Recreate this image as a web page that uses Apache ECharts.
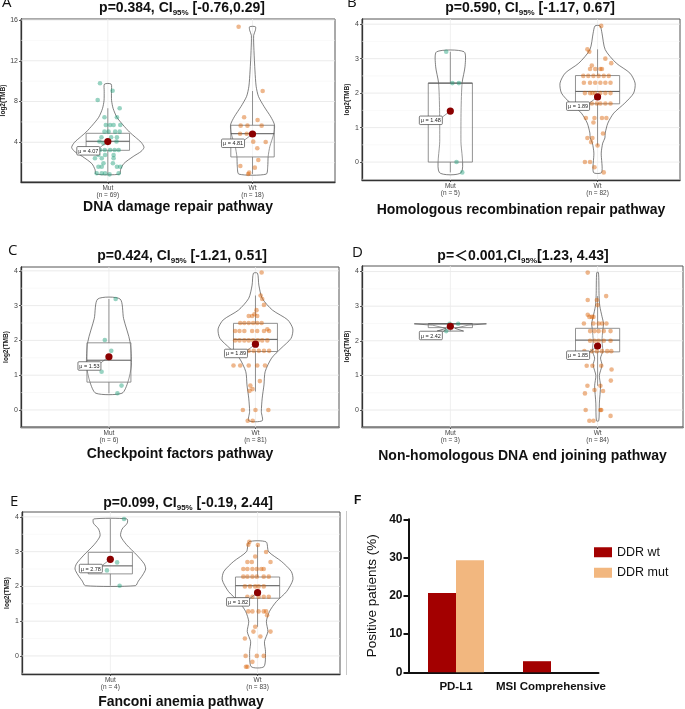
<!DOCTYPE html>
<html>
<head>
<meta charset="utf-8">
<script src="https://cdn.jsdelivr.net/npm/echarts@6/dist/echarts.min.js"></script>
<style>
html, body { margin: 0; padding: 0; background: #fff; }
#chart { width: 685px; height: 709px; }
</style>
</head>
<body>
<div id="chart"></div>
<script>
// ---------- data (offset from group centre, log2 TMB) ----------
// A: DNA damage repair
const aCats = ['Mut\n(n = 69)', 'Wt\n(n = 18)']
const aTicks = [4, 8, 12, 16]
const aMinor = [2, 6, 10, 14]
const aMutPts = [
  [-0.054, 9.79], [0.033, 9.06], [-0.07, 8.15], [0.082, 7.34], [-0.023, 6.45], [0.063, 6.45],
  [-0.014, 5.7], [0.016, 5.7], [0.04, 5.7], [0.086, 5.7], [-0.023, 5.04], [0.005, 5.04], [0.051, 5.04], [0.082, 5.04],
  [-0.044, 4.49], [0.023, 4.49], [0.063, 4.49], [-0.058, 4.07], [0.06, 4.07], [-0.03, 3.9],
  [-0.082, 3.24], [-0.054, 3.24], [-0.021, 3.24], [0.016, 3.24], [0.047, 3.24], [0.075, 3.24],
  [-0.065, 2.75], [-0.019, 2.75], [0.04, 2.75], [-0.089, 2.43], [-0.042, 2.43], [0.04, 2.43],
  [-0.03, 1.94], [0.035, 1.94], [-0.065, 1.6], [-0.042, 1.6], [0.063, 1.6], [0.086, 1.6],
  [-0.077, 0.96], [-0.042, 0.96], [-0.019, 0.96], [0.012, 0.85], [0.075, 0.96]
]
const aWtPts = [
  [-0.096, 15.34], [0.07, 9.03], [-0.058, 6.45], [0.035, 6.19], [-0.082, 5.63], [-0.035, 5.63], [0.063, 5.63],
  [-0.086, 4.84], [-0.04, 4.84], [0.005, 4.06], [0.091, 4.03], [0.033, 3.41], [0.04, 2.26], [-0.084, 1.67],
  [0.016, 1.51], [-0.023, 1.02], [-0.03, 0.89]
]
const aMutViolin = [[0.87, 0.082], [1.3, 0.088], [1.9, 0.11], [2.6, 0.175], [3.1, 0.23], [3.5, 0.25], [4.0, 0.23], [4.5, 0.19], [5.0, 0.15], [5.7, 0.105], [6.45, 0.063], [7.3, 0.037], [8.1, 0.026], [9.0, 0.025], [9.71, 0.023]]
const aWtViolin = [[0.87, 0.094], [1.6, 0.105], [2.6, 0.108], [3.6, 0.12], [4.8, 0.146], [5.7, 0.152], [6.5, 0.126], [7.5, 0.08], [8.5, 0.041], [9.5, 0.025], [11, 0.017], [13, 0.01], [14.5, 0.008], [15, 0.02], [15.34, 0.02]]
const aBoxes = [[1, 0.87, 3.21, 4.1, 4.88, 7.34], [2, 0.89, 2.56, 4.84, 5.67, 9.03]]
const aMeans = [4.07, 4.81]

// B: Homologous recombination repair
const bCats = ['Mut\n(n = 5)', 'Wt\n(n = 82)']
const ticks04 = [0, 1, 2, 3, 4]
const minor04 = [-0.5, 0.5, 1.5, 2.5, 3.5]
const bMutPts = [[-0.028, 3.2], [0.014, 2.29], [0.058, 2.29], [0.042, 0], [0.081, -0.3]]
const bWtPts = [
  [0.025, 3.95], [-0.069, 3.27], [-0.056, 3.2], [0.053, 3.0], [0.093, 2.87], [-0.039, 2.8],
  [-0.051, 2.7], [-0.016, 2.7], [0.019, 2.7], [0.03, 2.7],
  [-0.097, 2.5], [-0.063, 2.5], [-0.028, 2.5], [0.007, 2.5], [0.042, 2.5], [0.076, 2.5],
  [-0.093, 2.3], [-0.051, 2.3], [-0.016, 2.3], [0.019, 2.3], [0.053, 2.3], [0.088, 2.3],
  [-0.086, 2.0], [-0.051, 2.0], [-0.035, 2.0], [-0.016, 2.0], [0.019, 2.0], [0.053, 2.0], [0.088, 2.0],
  [-0.039, 1.7], [-0.005, 1.7], [0.019, 1.7], [0.053, 1.7], [0.088, 1.7],
  [-0.079, 1.28], [-0.021, 1.28], [0.03, 1.28], [0.06, 1.28],
  [-0.028, 1.15], [0.037, 0.83], [-0.069, 0.7], [-0.035, 0.7], [-0.044, 0.58], [0, 0.48],
  [-0.086, 0], [-0.051, 0], [-0.021, -0.15], [0.042, -0.3]
]
const bMutViolin = [[-0.3, 0.075], [0.6, 0.072], [1.5, 0.073], [2.3, 0.08], [2.78, 0.1], [3.2, 0.093]]
const bWtViolin = [[-0.3, 0.028], [0.26, 0.025], [0.55, 0.035], [0.7, 0.05], [0.84, 0.052], [1.13, 0.07], [1.42, 0.11], [1.71, 0.185], [2.0, 0.245], [2.29, 0.255], [2.58, 0.22], [2.87, 0.127], [3.26, 0.052], [3.74, 0.03], [3.95, 0.017]]
const bBoxes = [[1, -0.3, 0, 2.29, 2.29, 3.2], [2, 0.48, 1.69, 2.05, 2.51, 3.27]]
const bMeans = [1.48, 1.89]

// C: Checkpoint factors
const cCats = ['Mut\n(n = 6)', 'Wt\n(n = 81)']
const cMutPts = [[0.046, 3.19], [-0.028, 2.01], [0.016, 1.7], [-0.05, 1.1], [0.086, 0.7], [0.058, 0.48]]
const cWtPts = [
  [0.042, 3.95], [0.035, 3.29], [0.046, 3.19], [0.058, 3.02], [0.007, 2.87],
  [-0.046, 2.7], [-0.023, 2.7], [-0.007, 2.75], [0.012, 2.7],
  [-0.104, 2.5], [-0.076, 2.5], [-0.046, 2.5], [-0.016, 2.5], [0.012, 2.5], [0.042, 2.5],
  [0.081, 2.32], [-0.139, 2.27], [-0.109, 2.27], [-0.076, 2.27], [-0.023, 2.27], [0.012, 2.27], [0.058, 2.27], [0.093, 2.27],
  [-0.139, 2.0], [-0.109, 2.0], [-0.076, 2.0], [-0.046, 2.0], [-0.016, 2.0], [0.016, 2.0], [0.046, 2.0], [0.081, 2.0],
  [-0.046, 1.7], [-0.012, 1.7], [0.023, 1.7], [0.058, 1.7], [0.093, 1.7],
  [-0.15, 1.28], [-0.104, 1.28], [-0.046, 1.28], [0.012, 1.28], [0.065, 1.28],
  [0.03, 0.83], [-0.035, 0.7], [-0.02, 0.6], [-0.04, 0.55],
  [-0.086, 0], [0, 0], [0.088, 0], [-0.053, -0.31], [-0.019, -0.31]
]
const cMutViolin = [[0.48, 0.089], [0.81, 0.13], [1.29, 0.153], [1.96, 0.144], [2.63, 0.1], [3.19, 0.076]]
const cWtViolin = [[-0.31, 0.046], [-0.05, 0.04], [0.34, 0.046], [0.72, 0.058], [1.1, 0.066], [1.49, 0.11], [1.77, 0.174], [2.06, 0.243], [2.33, 0.255], [2.59, 0.22], [2.87, 0.116], [3.21, 0.046], [3.59, 0.023], [3.93, 0.014]]
const cBoxes = [[1, 0.48, 0.8, 1.43, 1.93, 3.19], [2, 0.53, 1.68, 2.03, 2.49, 3.29]]
const cMeans = [1.53, 1.89]

// D: Non-homologous DNA end joining
const dCats = ['Mut\n(n = 3)', 'Wt\n(n = 84)']
const dMutPts = [[0.053, 2.49], [-0.028, 2.28], [-0.005, 2.49]]
const dWtPts = [
  [-0.067, 3.97], [0.058, 3.29], [-0.067, 3.18], [-0.005, 3.18], [0, 3.03], [-0.067, 2.75],
  [-0.056, 2.69], [-0.039, 2.69], [-0.028, 2.69],
  [-0.093, 2.5], [-0.028, 2.5], [0.007, 2.5], [0.03, 2.5], [0.06, 2.5],
  [-0.051, 2.28], [-0.021, 2.28], [0.007, 2.28], [0.042, 2.28], [0.088, 2.28],
  [-0.051, 2.0], [-0.021, 2.0], [0.007, 2.0], [0.042, 2.0], [0.088, 2.0],
  [-0.09, 1.7], [-0.039, 1.7], [-0.005, 1.7], [0.03, 1.7], [0.065, 1.7], [0.093, 1.7],
  [-0.074, 1.28], [-0.035, 1.28], [0.025, 1.28], [0.095, 1.17], [0.09, 0.85],
  [-0.069, 0.7], [0.019, 0.7], [-0.021, 0.58], [0.037, 0.55], [-0.086, 0.48],
  [-0.081, 0], [0.019, 0], [0.025, 0], [0.088, -0.17], [-0.056, -0.31], [-0.028, -0.31]
]
const dMutViolin = [[2.28, 0.09], [2.36, 0.03], [2.45, 0.12], [2.49, 0.245]]
const dWtViolin = [[-0.31, 0.008], [0.2, 0.012], [0.7, 0.02], [1.0, 0.012], [1.3, 0.03], [1.5, 0.02], [1.7, 0.035], [2.0, 0.03], [2.3, 0.035], [2.5, 0.04], [2.7, 0.03], [3.0, 0.015], [3.3, 0.01], [3.97, 0.006]]
const dBoxes = [[1, 2.28, 2.38, 2.49, 2.49, 2.49], [2, 0.7, 1.68, 2.02, 2.36, 3.29]]
const dMeans = [2.42, 1.85]

// E: Fanconi anemia
const eCats = ['Mut\n(n = 4)', 'Wt\n(n = 83)']
const eMutPts = [[0.093, 3.94], [0.046, 2.69], [-0.023, 2.46], [0.063, 2.02]]
const eWtPts = [
  [-0.056, 3.28], [-0.063, 3.2], [0.002, 3.19], [0.058, 2.99], [-0.016, 2.86],
  [-0.069, 2.7], [-0.039, 2.7], [0.088, 2.7],
  [-0.097, 2.5], [-0.069, 2.5], [-0.035, 2.5], [-0.005, 2.5], [0.025, 2.5], [0.042, 2.5],
  [-0.097, 2.28], [-0.069, 2.28], [-0.035, 2.28], [-0.005, 2.28], [0.042, 2.28], [0.076, 2.28],
  [-0.086, 2.0], [-0.051, 2.0], [-0.016, 2.0], [0.007, 2.0], [0.042, 2.0],
  [-0.069, 1.7], [-0.035, 1.7], [0.007, 1.7], [0.042, 1.7], [0.076, 1.7],
  [-0.063, 1.28], [-0.035, 1.28], [0.007, 1.28], [0.042, 1.28], [0.058, 1.28], [0.065, 1.17],
  [-0.016, 0.84], [-0.028, 0.7], [0.088, 0.7], [0.019, 0.56], [-0.086, 0.5],
  [-0.081, 0], [-0.005, 0], [0.042, 0], [-0.035, -0.17], [-0.079, -0.31], [-0.069, -0.31]
]
const eMutViolin = [[2.02, 0.17], [2.15, 0.19], [2.33, 0.22], [2.5, 0.24], [2.65, 0.23], [2.9, 0.18], [3.2, 0.11], [3.45, 0.07], [3.65, 0.08], [3.82, 0.115], [3.94, 0.113]]
const eWtViolin = [[-0.31, 0.043], [0.12, 0.054], [0.41, 0.047], [0.7, 0.07], [0.99, 0.06], [1.28, 0.081], [1.56, 0.127], [1.85, 0.197], [2.19, 0.24], [2.43, 0.229], [2.72, 0.162], [3.0, 0.075], [3.28, 0.058]]
const eBoxes = [[1, 2.02, 2.36, 2.59, 2.98, 3.94], [2, 0.84, 1.66, 2.02, 2.27, 3.19]]
const eMeans = [2.78, 1.82]

// F: positive patients (%)
const fCats = ['PD-L1', 'MSI Comprehensive']
const fWt = [20.7, 2.9]
const fMut = [29.3, 0]

const titles = [
  ['p=0.384, CI', '95%', ' [-0.76,0.29]'],
  ['p=0.590, CI', '95%', ' [-1.17, 0.67]'],
  ['p=0.424, CI', '95%', ' [-1.21, 0.51]'],
  ['p=\uFF1C0.001,CI', '95%', '[1.23, 4.43]'],
  ['p=0.099, CI', '95%', ' [-0.19, 2.44]']
]
const pathways = [
  'DNA damage repair pathway',
  'Homologous recombination repair pathway',
  'Checkpoint factors pathway',
  'Non-homologous DNA end joining pathway',
  'Fanconi anemia pathway'
]

// ---------- layout ----------
const FONT = '"Liberation Sans", Arial, "Noto Sans CJK SC", sans-serif'
const panels = [
  { grid: [21, 19, 314, 163], xMax: 2.57, y: [0.1, 16.1], ticks: aTicks, minor: aMinor, cats: aCats, pts: [aMutPts, aWtPts], vio: [aMutViolin, aWtViolin], boxes: aBoxes, means: aMeans, nameGap: 18, title: [182, 1] },
  { grid: [362, 19, 318, 161], xMax: 2.56, y: [-0.52, 4.15], ticks: ticks04, minor: minor04, cats: bCats, pts: [bMutPts, bWtPts], vio: [bMutViolin, bWtViolin], boxes: bBoxes, means: bMeans, nameGap: 23, title: [530, 1] },
  { grid: [21, 267, 318, 160], xMax: 2.57, y: [-0.49, 4.11], ticks: ticks04, minor: minor04, cats: cCats, pts: [cMutPts, cWtPts], vio: [cMutViolin, cWtViolin], boxes: cBoxes, means: cMeans, nameGap: 20, title: [182, 249] },
  { grid: [362, 266, 321, 161], xMax: 2.58, y: [-0.49, 4.16], ticks: ticks04, minor: minor04, cats: dCats, pts: [dMutPts, dWtPts], vio: [dMutViolin, dWtViolin], boxes: dBoxes, means: dMeans, nameGap: 22, title: [523, 249] },
  { grid: [22, 512, 318, 162], xMax: 2.56, y: [-0.52, 4.14], ticks: ticks04, minor: minor04, cats: eCats, pts: [eMutPts, eWtPts], vio: [eMutViolin, eWtViolin], boxes: eBoxes, means: eMeans, nameGap: 21, title: [188, 496] }
]
const ptColors = ['#1b9e77', '#d95f02']

// ---------- render helpers ----------
const gridLineItem = (params, api) => {
  const kind = api.value(0), v = api.value(1)
  const cs = params.coordSys
  if (kind === 2) {
    const x = api.coord([v, 0])[0]
    return { type: 'line', shape: { x1: x, y1: cs.y, x2: x, y2: cs.y + cs.height }, style: { stroke: '#ebebeb', lineWidth: 0.8 } }
  }
  const y = api.coord([1, v])[1]
  return { type: 'line', shape: { x1: cs.x, y1: y, x2: cs.x + cs.width, y2: y }, style: { stroke: kind === 0 ? '#e6e6e6' : '#f2f2f2', lineWidth: kind === 0 ? 0.8 : 0.5 } }
}

const violinItem = (profiles) => (params, api) => {
  const g = api.value(0)
  const prof = profiles[g - 1]
  const pts = prof.map(([v, w]) => api.coord([g + w, v]))
  for (let i = prof.length - 1; i >= 0; i--) pts.push(api.coord([g - prof[i][1], prof[i][0]]))
  return { type: 'polygon', shape: { points: pts, smooth: prof.length > 4 ? 0.25 : 0 }, style: { fill: 'rgba(255,255,255,0.15)', stroke: '#4a4a4a', lineWidth: 0.7 } }
}

const boxItem = (params, api) => {
  const g = api.value(0)
  const [lo, q1, md, q3, hi] = [1, 2, 3, 4, 5].map(i => api.value(i))
  const a = api.coord([g - 0.15, q3]), b = api.coord([g + 0.15, q1])
  const m = api.coord([g, md]), top = api.coord([g, hi]), bot = api.coord([g, lo])
  const st = { stroke: '#777', lineWidth: 0.8 }
  return {
    type: 'group',
    children: [
      { type: 'line', shape: { x1: top[0], y1: top[1], x2: top[0], y2: a[1] }, style: st },
      { type: 'line', shape: { x1: bot[0], y1: bot[1], x2: bot[0], y2: b[1] }, style: st },
      { type: 'rect', shape: { x: a[0], y: a[1], width: b[0] - a[0], height: b[1] - a[1] }, style: { fill: 'rgba(255,255,255,0.2)', stroke: '#777', lineWidth: 0.8 } },
      { type: 'line', shape: { x1: a[0], y1: m[1], x2: b[0], y2: m[1] }, style: { stroke: '#555', lineWidth: 1 } }
    ]
  }
}

const meanItem = (params, api) => {
  const g = api.value(0), mu = api.value(1)
  const p = api.coord([g, mu])
  const w = 23, h = 8.5
  const rx = p[0] - 8 - w, ry = p[1] + 5
  return {
    type: 'group',
    children: [
      { type: 'line', shape: { x1: rx + w, y1: ry + 1, x2: p[0], y2: p[1] }, style: { stroke: '#555', lineWidth: 0.6 } },
      { type: 'rect', shape: { x: rx, y: ry, width: w, height: h, r: 1 }, style: { fill: '#fff', stroke: '#444', lineWidth: 0.7 } },
      { type: 'text', x: rx + w / 2, y: ry + h / 2 + 0.5, style: { text: '\u03BC = ' + mu.toFixed(2), fill: '#222', font: '5.5px ' + FONT, align: 'center', verticalAlign: 'middle' } },
      { type: 'circle', shape: { cx: p[0], cy: p[1], r: 3.6 }, style: { fill: '#8b0000' } }
    ]
  }
}

// ---------- build option ----------
const grids = [], xAxes = [], yAxes = [], series = [], titleList = []
panels.forEach((p, i) => {
  grids.push({ left: p.grid[0], top: p.grid[1], width: p.grid[2], height: p.grid[3], show: true, borderColor: '#555', borderWidth: 1, containLabel: false, outerBoundsMode: 'none' })
  xAxes.push({
    gridIndex: i, type: 'value', min: 0.4, max: p.xMax,
    axisLine: { show: true, onZero: false, lineStyle: { color: '#333', width: 1.3 } },
    axisTick: { show: true, customValues: [1, 2], length: 2, lineStyle: { color: '#333', width: 0.8 } },
    axisLabel: { customValues: [1, 2], formatter: v => p.cats[Math.round(v) - 1], fontSize: 6.5, lineHeight: 7, color: '#444', margin: 3, fontFamily: FONT },
    splitLine: { show: false },
    name: pathways[i], nameLocation: 'middle', nameGap: p.nameGap,
    nameTextStyle: { fontSize: 14, fontWeight: 'bold', color: '#111', fontFamily: FONT }
  })
  yAxes.push({
    gridIndex: i, type: 'value', min: p.y[0], max: p.y[1],
    axisLine: { show: true, onZero: false, lineStyle: { color: '#333', width: 1.3 } },
    axisTick: { show: true, customValues: p.ticks, length: 2, lineStyle: { color: '#333', width: 0.8 } },
    axisLabel: { customValues: p.ticks, fontSize: 7, color: '#444', margin: 3, fontFamily: FONT },
    splitLine: { show: false },
    name: 'log2(TMB)', nameLocation: 'middle', nameRotate: 90, nameGap: 12,
    nameTextStyle: { fontSize: 6.5, fontWeight: 'bold', color: '#222', fontFamily: FONT }
  })
  const gl = p.ticks.map(v => [0, v]).concat(p.minor.map(v => [1, v]), [[2, 1], [2, 2]])
  const ax = { xAxisIndex: i, yAxisIndex: i, silent: true }
  series.push({ type: 'custom', ...ax, z: 1, renderItem: gridLineItem, data: gl })
  series.push({ type: 'custom', ...ax, z: 2, renderItem: violinItem(p.vio), data: [[1, 0], [2, 0]] })
  series.push({ type: 'custom', ...ax, z: 3, renderItem: boxItem, data: p.boxes })
  p.pts.forEach((pts, g) => {
    series.push({
      type: 'scatter', ...ax, z: 4, symbolSize: 4.6,
      itemStyle: { color: ptColors[g], opacity: 0.45 },
      data: pts.map(([o, v]) => [g + 1 + o, v])
    })
  })
  series.push({ type: 'custom', ...ax, z: 5, renderItem: meanItem, data: p.means.map((m, g) => [g + 1, m]) })

  const t = titles[i]
  titleList.push({
    left: p.title[0], top: p.title[1], textAlign: 'center', padding: 0,
    text: '{m|' + t[0] + '}{s|' + t[1] + '}{m|' + t[2] + '}',
    textStyle: {
      rich: {
        m: { fontSize: 14, fontWeight: 'bold', color: '#111', fontFamily: FONT, lineHeight: 16, verticalAlign: 'top' },
        s: { fontSize: 8, fontWeight: 'bold', color: '#111', fontFamily: FONT, lineHeight: 8, padding: [11, 0, 0, 0], verticalAlign: 'bottom' }
      }
    }
  })
})

// panel F
grids.push({ left: 408.5, top: 519.3, width: 190, height: 153, show: false, containLabel: false, outerBoundsMode: 'none' })
xAxes.push({
  gridIndex: 5, type: 'category', data: fCats,
  axisLine: { lineStyle: { color: '#111', width: 2 } },
  axisTick: { alignWithLabel: true, length: 5, lineStyle: { color: '#111', width: 2 } },
  axisLabel: { interval: 0, hideOverlap: false, fontSize: 11.5, fontWeight: 'bold', color: '#111', margin: 9, fontFamily: FONT }
})
yAxes.push({
  gridIndex: 5, type: 'value', min: 0, max: 40, interval: 10,
  axisLine: { show: true, lineStyle: { color: '#111', width: 2 } },
  axisTick: { show: true, length: 5, lineStyle: { color: '#111', width: 2 } },
  axisLabel: { fontSize: 12, fontWeight: 'bold', color: '#111', margin: 6, fontFamily: FONT },
  splitLine: { show: false },
  name: 'Positive patients (%)', nameLocation: 'middle', nameRotate: 90, nameGap: 29,
  nameTextStyle: { fontSize: 13.5, color: '#111', fontFamily: FONT }
})
series.push({ name: 'DDR wt', type: 'bar', xAxisIndex: 5, yAxisIndex: 5, barWidth: 28, barGap: '0%', itemStyle: { color: '#a30000' }, data: fWt })
series.push({ name: 'DDR mut', type: 'bar', xAxisIndex: 5, yAxisIndex: 5, barWidth: 28, barGap: '0%', itemStyle: { color: '#f2b77f' }, data: fMut })

const letters = [['A', 2, -5], ['B', 347, -5], ['C', 8, 243], ['D', 352, 245], ['E', 10, 494]]
const graphics = letters.map(([t, x, y]) => ({
  type: 'text', left: x, top: y, style: { text: t, font: '15px "Open Sans", ' + FONT, fill: '#111' }
}))
graphics.push({ type: 'text', left: 354, top: 495, style: { text: 'F', font: 'bold 12px ' + FONT, fill: '#111' } })
graphics.push({ type: 'line', shape: { x1: 346.5, y1: 511, x2: 346.5, y2: 675 }, style: { stroke: '#c8c8c8', lineWidth: 1 } })

const option = {
  animation: false,
  backgroundColor: '#fff',
  title: titleList,
  legend: {
    data: ['DDR wt', 'DDR mut'], orient: 'vertical', left: 589, top: 541,
    icon: 'rect', itemWidth: 18, itemHeight: 10, itemGap: 8,
    textStyle: { fontSize: 12.5, color: '#111', fontFamily: FONT }
  },
  grid: grids,
  xAxis: xAxes,
  yAxis: yAxes,
  series: series,
  graphic: graphics
}

const chart = echarts.init(document.getElementById('chart'))
chart.setOption(option)
</script>
</body>
</html>
